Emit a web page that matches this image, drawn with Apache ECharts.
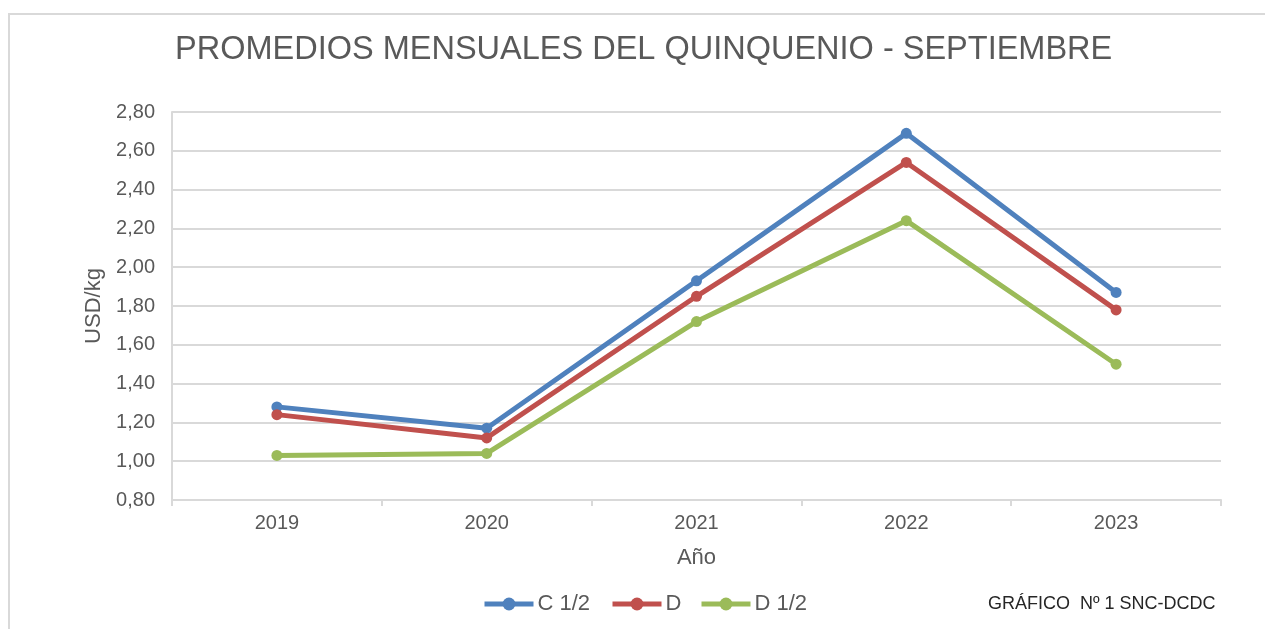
<!DOCTYPE html>
<html>
<head>
<meta charset="utf-8">
<title>Promedios mensuales del quinquenio - Septiembre</title>
<script src="https://cdn.jsdelivr.net/npm/echarts@6/dist/echarts.min.js"></script>
<style>
  html, body { margin: 0; padding: 0; background: #fff; }
  #chart { width: 1265px; height: 629px; }
</style>
</head>
<body>
<div id="chart"></div>
<script>
// datos
const years = ['2019', '2020', '2021', '2022', '2023']
const c12 = [1.28, 1.17, 1.93, 2.69, 1.87]
const d = [1.24, 1.12, 1.85, 2.54, 1.78]
const d12 = [1.03, 1.04, 1.72, 2.24, 1.50]
const seriesNames = ['C 1/2', 'D', 'D 1/2']
const seriesColors = ['#4f81bd', '#c0504d', '#9bbb59']

const font = 'Liberation Sans, Arial, sans-serif'
const chart = echarts.init(document.getElementById('chart'))

function makeSeries(name, values, color) {
  return {
    name: name,
    type: 'line',
    symbol: 'circle',
    symbolSize: 11,
    lineStyle: { width: 5, color: color },
    itemStyle: { color: color },
    emphasis: { disabled: true },
    data: values
  }
}

function makeLegend(name, left) {
  return {
    data: [name],
    left: left,
    top: 593,
    padding: 0,
    itemWidth: 49,
    itemHeight: 16,
    lineStyle: { width: 5 },
    textStyle: { fontFamily: font, fontSize: 22, color: '#595959', padding: [0, 0, 0, -1] }
  }
}

chart.setOption({
  animation: false,
  title: {
    text: 'PROMEDIOS MENSUALES DEL QUINQUENIO - SEPTIEMBRE',
    left: 175,
    top: 34,
    padding: 0,
    textStyle: {
      fontFamily: font,
      fontSize: 32.5,
      fontWeight: 'normal',
      color: '#595959'
    }
  },
  legend: [
    makeLegend(seriesNames[0], 482),
    makeLegend(seriesNames[1], 610),
    makeLegend(seriesNames[2], 699)
  ],
  grid: {
    left: 172,
    right: 44,
    top: 112,
    bottom: 129
  },
  xAxis: {
    type: 'category',
    data: years,
    name: 'Año',
    nameLocation: 'middle',
    nameGap: 47,
    nameTextStyle: { fontFamily: font, fontSize: 22, color: '#595959' },
    axisLine: { lineStyle: { color: '#d9d9d9', width: 2 } },
    axisTick: { show: true, length: 6, lineStyle: { color: '#d9d9d9', width: 2 } },
    axisLabel: { margin: 13, fontFamily: font, fontSize: 20, color: '#595959' }
  },
  yAxis: {
    type: 'value',
    min: 0.8,
    max: 2.8,
    interval: 0.2,
    name: 'USD/kg',
    nameLocation: 'middle',
    nameGap: 66,
    nameTextStyle: { fontFamily: font, fontSize: 22, color: '#595959' },
    axisLine: { show: true, lineStyle: { color: '#d9d9d9', width: 2 } },
    axisTick: { show: false },
    axisLabel: {
      margin: 17,
      fontFamily: font,
      fontSize: 20,
      color: '#595959',
      formatter: function (v) {
        return v.toFixed(2).replace('.', ',')
      }
    },
    splitLine: { lineStyle: { color: '#d9d9d9', width: 2 } }
  },
  graphic: [
    {
      type: 'polyline',
      shape: { points: [[9, 629], [9, 14], [1265, 14]] },
      style: { stroke: '#d9d9d9', lineWidth: 2, fill: null }
    },
    {
      type: 'text',
      left: 988,
      top: 595,
      style: {
        text: 'GRÁFICO  Nº 1 SNC-DCDC',
        fontFamily: font,
        fontSize: 18,
        fill: '#262626'
      }
    }
  ],
  series: [
    makeSeries(seriesNames[0], c12, seriesColors[0]),
    makeSeries(seriesNames[1], d, seriesColors[1]),
    makeSeries(seriesNames[2], d12, seriesColors[2])
  ]
})
</script>
</body>
</html>
